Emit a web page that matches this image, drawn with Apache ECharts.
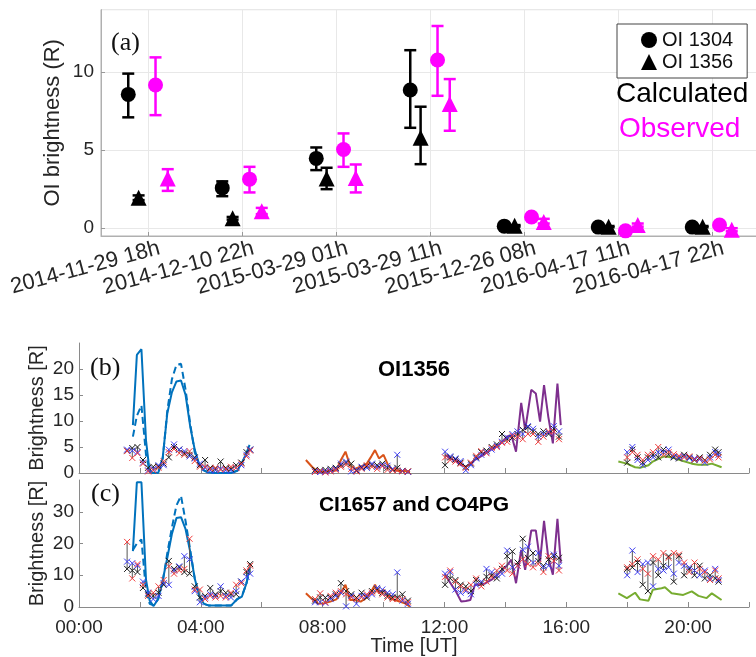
<!DOCTYPE html>
<html>
<head>
<meta charset="utf-8">
<script src="https://cdn.jsdelivr.net/npm/echarts@6/dist/echarts.min.js"></script>
<style>
  html, body { margin: 0; padding: 0; background: #fff; }
  #chart { width: 756px; height: 657px; }
</style>
</head>
<body>
<div id="chart"></div>
<script>
// ---------- (a) OI brightness per event ----------
const categories = ['2014-11-29 18h', '2014-12-10 22h', '2015-03-29 01h', '2015-03-29 11h',
  '2015-12-26 08h', '2016-04-17 11h', '2016-04-17 22h']
const calc1304 = [8.57, 2.58, 4.47, 8.85, 0.13, 0.07, 0.07]
const calc1304Lo = [7.1, 2.05, 3.72, 6.43, 0.08, 0.03, 0.03]
const calc1304Hi = [9.9, 3.0, 5.17, 11.4, 0.18, 0.11, 0.11]
const calc1356 = [1.95, 0.64, 3.18, 5.79, 0.15, 0.1, 0.1]
const calc1356Lo = [1.8, 0.55, 2.5, 4.1, 0.1, 0.06, 0.06]
const calc1356Hi = [2.1, 0.72, 3.87, 7.78, 0.2, 0.14, 0.14]
const obs1304 = [9.17, 3.14, 5.04, 10.77, 0.72, -0.17, 0.2]
const obs1304Lo = [7.24, 2.29, 3.93, 8.48, 0.6, -0.3, 0.1]
const obs1304Hi = [10.94, 3.93, 6.07, 12.95, 0.85, -0.05, 0.3]
const obs1356 = [3.18, 1.09, 3.22, 7.95, 0.4, 0.2, -0.1]
const obs1356Lo = [2.39, 0.9, 2.29, 6.24, 0.3, 0.1, -0.2]
const obs1356Hi = [3.78, 1.3, 4.08, 9.55, 0.6, 0.3, 0.0]

// ---------- (b)/(c) observations, time in hours UT ----------
const seg1T = [1.58, 1.75, 1.92, 2.1, 2.27, 2.44, 2.61, 2.78, 2.95, 3.12, 3.29, 3.46, 3.63, 3.8, 3.97,
  4.14, 4.31, 4.48, 4.65, 4.82, 4.99, 5.16, 5.33, 5.5, 5.62]
const seg2T = [7.75, 7.92, 8.09, 8.26, 8.43, 8.6, 8.77, 8.94, 9.11, 9.28, 9.45, 9.62, 9.79, 9.96, 10.13,
  10.3, 10.45, 10.62, 10.8]
const seg3T = [12.02, 12.19, 12.36, 12.53, 12.7, 12.87, 13.04, 13.21, 13.38, 13.55, 13.72, 13.89, 14.06,
  14.23, 14.4, 14.57, 14.74, 14.91, 15.08, 15.25, 15.42, 15.59, 15.76]
const seg4T = [18.0, 18.17, 18.34, 18.51, 18.68, 18.85, 19.02, 19.19, 19.36, 19.53, 19.7, 19.87, 20.04,
  20.21, 20.38, 20.55, 20.72, 20.89, 21.0]

// OI1356 observed (black / blue / red)
const b1K = [4.3, 4.8, 5.0, 2.5, 1.0, 1.2, 1.3, 1.8, 3.0, 5.0, 4.5, 3.8, 3.5, 3.0, 1.5, 2.5, 1.0, 0.8, 2.2, 1.0, 0.8, 1.5, 2.0, 4.0, 4.5]
const b1B = [4.5, 4.3, 4.0, 2.0, 0.5, 0.8, 1.5, 1.5, 4.5, 5.5, 4.5, 4.2, 3.2, 2.8, 1.8, 1.0, 0.5, 0.5, 0.8, 0.5, 0.5, 1.0, 1.5, 3.5, 4.5]
const b1R = [4.2, 2.9, 3.8, 1.8, 0.3, 0.5, 1.0, 2.2, 4.0, 4.6, 3.8, 3.5, 4.2, 2.3, 1.2, 1.2, 0.8, 1.0, 0.6, 0.8, 1.2, 1.0, 1.8, 3.2, 4.3]
const b2K = [0.6, 0.5, 0.6, 0.8, 1.0, 1.5, 2.0, 1.8, 0.5, 1.0, 1.3, 1.6, 1.5, 1.8, 1.0, 0.6, 1.0, 0.4, 0.3]
const b2B = [0.3, 0.2, 0.3, 0.5, 0.8, 1.8, 2.2, 0.3, 0.6, 1.2, 1.0, 1.8, 1.2, 1.5, 1.4, 0.8, 3.5, 0.4, 0.2]
const b2R = [0.2, 0.4, 0.1, 0.3, 0.6, 1.2, 1.6, 0.8, 0.3, 0.8, 1.5, 1.2, 0.8, 1.3, 0.6, 0.5, 0.5, 0.3, 0.3]
const b3K = [1.5, 3.0, 2.6, 2.0, 1.2, 1.8, 3.0, 4.0, 4.3, 5.0, 5.5, 7.5, 6.5, 6.8, 7.5, 8.3, 8.8, 8.0, 7.5, 8.0, 7.5, 8.5, 7.0]
const b3B = [4.1, 3.2, 2.8, 2.3, 0.5, 1.5, 2.8, 3.5, 4.0, 4.5, 5.2, 6.0, 6.8, 7.5, 8.0, 7.5, 9.0, 8.5, 7.0, 7.5, 7.8, 9.0, 8.0]
const b3R = [3.0, 2.5, 2.2, 1.8, 1.0, 2.0, 3.3, 4.2, 3.8, 4.8, 5.0, 5.8, 6.0, 7.2, 7.0, 6.5, 7.5, 7.5, 6.0, 7.0, 8.0, 8.0, 6.5]
const b4K = [2.0, 4.5, 3.0, 2.0, 3.0, 3.5, 3.0, 4.5, 3.5, 3.0, 2.8, 3.5, 3.0, 2.5, 3.0, 2.5, 3.5, 4.5, 4.0]
const b4B = [4.0, 5.0, 2.5, 1.5, 2.5, 3.0, 4.0, 4.0, 4.5, 3.2, 3.0, 3.2, 2.8, 2.8, 2.6, 2.0, 3.0, 4.0, 3.5]
const b4R = [3.0, 4.0, 3.5, 2.5, 3.5, 4.0, 5.0, 3.5, 4.0, 3.6, 3.3, 3.0, 3.2, 2.6, 2.8, 2.4, 2.6, 3.5, 3.0]

// CI1657 and CO4PG observed (black / blue / red)
const c1K = [12, 11.5, 11, 6, 4, 3.5, 4.5, 7, 14.5, 12, 12.5, 11, 10.5, 6.5, 3, 3.5, 6, 4, 5, 4.5, 4, 4, 8, 11, 13.5]
const c1B = [14.3, 13.8, 13, 8, 4.5, 2.5, 3.5, 7.5, 7, 11.5, 12.8, 16, 15, 5, 1.5, 3, 4, 3.5, 6.5, 3.5, 3, 5, 8, 9.5, 10.5]
const c1R = [20.5, 9, 13.5, 7, 3.5, 4.5, 6.5, 8.5, 12.8, 10.5, 11.5, 12, 21.5, 5.5, 5.5, 2.5, 3.5, 3, 3.5, 3, 4.5, 7, 7.5, 11.5, 13]
const c2K = [2, 3, 3, 3, 4, 7.5, 5, 4, 3, 4.5, 3, 5, 5.5, 4.5, 3.5, 3, 3, 4, 2]
const c2B = [1.5, 1.5, 1.3, 2.5, 3.5, 4.5, 0.2, 3.5, 1, 3.5, 3.5, 4, 6, 5.5, 4.5, 4, 10.9, 2, 1]
const c2R = [2.5, 4.3, 1.5, 3.5, 4.5, 5, 4, 3, 2.5, 3, 4, 4.5, 5, 4, 3, 2.5, 2.5, 2.5, 1.5]
const c3K = [7, 9, 8.5, 7, 6.5, 5, 8.5, 7.5, 9.5, 10, 9, 12, 16, 17.5, 14, 21.5, 15.5, 17, 14.5, 13, 15, 16, 15.5]
const c3B = [10.5, 11, 5.5, 4.5, 5, 4, 7, 8, 12, 11, 10, 10.5, 17.8, 12.5, 13, 18, 19, 14, 17, 12.5, 13, 16.5, 13]
const c3R = [9.5, 11.5, 8, 6.5, 5.5, 7, 9, 6.5, 8, 9.5, 11.5, 13, 11.5, 10.5, 13, 15, 13.5, 12.5, 13.5, 11, 16, 14.5, 11.5]
const c4K = [12, 12.5, 14, 7, 5, 14, 10, 13, 16, 8, 16, 10, 12, 10, 13, 9, 10, 9, 8]
const c4B = [10, 17.8, 11, 13.5, 14, 6.5, 12, 11.5, 12.5, 10.5, 14, 13, 12.5, 11.5, 10, 11.5, 9, 12, 8.5]
const c4R = [12.5, 13.5, 15, 12, 10.5, 16, 15, 17, 15.5, 17, 16.5, 14, 11, 14, 12, 11, 8.5, 11.5, 9]

// ---------- model curves ----------
const mod1T = [1.77, 1.9, 2.05, 2.2, 2.32, 2.45, 2.6, 2.75, 2.9, 3.05, 3.2, 3.35, 3.5, 3.65, 3.8, 3.95,
  4.1, 4.25, 4.5, 4.75, 5.0, 5.2, 5.35, 5.5, 5.6]
const b1Solid = [9.2, 22.7, 23.8, 6.3, 0.2, 0, 0, 3.0, 11.5, 15.5, 17.6, 17.8, 15.0, 9.0, 4.5, 1.6, 0.5, 0.1, 0, 0, 0, 0.5, 2.0, 3.8, 5.4]
const b1Dash = [7, 11, 13, 3.5, 0.3, 0, 0, 2.8, 12, 18, 20.8, 21.0, 16, 9.5, 4.0, 1.5, 0.5, 0.1, 0, 0, 0, 0.4, 1.8, 3.8, 5.2]
const c1Solid = [17.6, 39.3, 39.3, 8.6, 2, 0.3, 2.5, 8.5, 15.5, 23, 28, 28.3, 24.5, 17.5, 9, 3.5, 1, 0.5, 0.5, 0.5, 0.5, 2.5, 3.3, 7.5, 12.5]
const c1Dash = [18, 20, 21.3, 5, 1, 0.5, 2.5, 8, 17, 25, 32, 35, 27, 18, 9, 3.5, 1, 0.5, 0.5, 0.5, 0.5, 2.5, 3.5, 7.5, 11.5]
const mod2T = [7.45, 7.65, 7.85, 8.05, 8.25, 8.45, 8.6, 8.75, 8.9, 9.05, 9.25, 9.45, 9.6, 9.72, 9.85, 10.0,
  10.15, 10.3, 10.5, 10.7, 10.87]
const b2Mod = [2.5, 1.2, 0.2, 0.2, 0.4, 0.5, 2.5, 4.1, 1.5, 0.8, 1.2, 1.8, 3.2, 4.4, 2.8, 3.5, 1.5, 0.6, 0.4, 0.4, 0.2]
const c2Mod = [4.3, 2.5, 1.0, 1.2, 1.7, 2.4, 4.5, 7.0, 2.2, 2.2, 1.7, 3.0, 5.0, 7.0, 4.3, 5.4, 3.5, 2.4, 1.8, 1.2, 0.1]
const mod3T = [12.02, 12.2, 12.4, 12.55, 12.7, 12.85, 13.0, 13.17, 13.35, 13.55, 13.72, 13.9, 14.05, 14.2,
  14.35, 14.52, 14.65, 14.85, 15.0, 15.14, 15.27, 15.41, 15.56, 15.71, 15.82]
const b3Mod = [3.5, 2.8, 2.2, 1.5, 1.2, 1.8, 2.5, 3.1, 3.8, 4.6, 5.1, 6, 7, 7.2, 4.1, 13.5, 8.3, 16, 15.3, 9.9, 16.9, 10.8, 5.7, 17.2, 9.2]
const c3Mod = [10.2, 7.5, 4.5, 1.7, 1.9, 2.2, 7, 7, 7.5, 8.6, 10, 11.7, 13, 14.9, 7.5, 18, 11.7, 24.1, 24.1, 14.4, 27.1, 15.4, 10.2, 27.8, 13.9]
const mod4T = [17.71, 17.99, 18.26, 18.42, 18.7, 18.84, 19.13, 19.24, 19.46, 19.84, 20.12, 20.34, 20.61, 20.78, 21.1]
const b4Mod = [2.2, 1.8, 1.1, 1.0, 1.5, 2.2, 3.0, 3.2, 3.0, 2.3, 1.8, 1.6, 1.6, 1.8, 1.1]
const c4Mod = [4.3, 2.8, 4.5, 2.4, 2.0, 5.4, 5.9, 6.2, 4.3, 3.8, 4.9, 3.5, 2.8, 4.3, 2.2]

const SANS = 'Liberation Sans, Arial, sans-serif'
const SERIF = 'Liberation Serif, Times New Roman, serif'
const AXIS_GRAY = '#8a8a8a'
const TXT = '#262626'
const MAGENTA = '#ff00ff'

const chart = echarts.init(document.getElementById('chart'), null, { renderer: 'canvas' })

// marker offset of each series inside a category slot
const OFF = { c1304: -0.21, c1356: -0.1, o1304: 0.08, o1356: 0.21 }

function scatterA(name, vals, off, symbol, color) {
  return {
    name: name, type: 'scatter', xAxisIndex: 0, yAxisIndex: 0,
    symbol: symbol, symbolSize: symbol === 'circle' ? 15 : 16,
    itemStyle: { color: color, opacity: 1 },
    data: vals.map((v, i) => [i + off, v]), z: 4, animation: false
  }
}

function errA(lo, hi, off, color) {
  return {
    type: 'custom', xAxisIndex: 0, yAxisIndex: 0, z: 3, animation: false, silent: true,
    data: lo.map((l, i) => [i + off, l, hi[i]]),
    renderItem(params, api) {
      const p1 = api.coord([api.value(0), api.value(1)])
      const p2 = api.coord([api.value(0), api.value(2)])
      const w = 6
      const st = { stroke: color, lineWidth: 2.5 }
      return {
        type: 'group', children: [
          { type: 'line', shape: { x1: p1[0], y1: p1[1], x2: p2[0], y2: p2[1] }, style: st },
          { type: 'line', shape: { x1: p1[0] - w, y1: p1[1], x2: p1[0] + w, y2: p1[1] }, style: st },
          { type: 'line', shape: { x1: p2[0] - w, y1: p2[1], x2: p2[0] + w, y2: p2[1] }, style: st }
        ]
      }
    }
  }
}

function zipObs(pairs) {
  const out = []
  pairs.forEach(([t, k, b, r]) => t.forEach((x, i) => out.push([x, k[i], b[i], r[i]])))
  return out
}

function obsSeries(idx, data) {
  const cols = ['#1a1a1a', '#3b3bf2', '#f03c3c']
  return {
    type: 'custom', xAxisIndex: idx, yAxisIndex: idx, z: 5, animation: false, silent: true,
    data: data,
    renderItem(params, api) {
      const t = api.value(0)
      const pts = [1, 2, 3].map(d => api.coord([t, api.value(d)]))
      const ys = pts.map(p => p[1])
      const x = pts[0][0]
      const r = 3
      const children = [{
        type: 'line', shape: { x1: x, y1: Math.min(...ys), x2: x, y2: Math.max(...ys) },
        style: { stroke: '#555', lineWidth: 1 }
      }]
      pts.forEach((p, i) => {
        const st = { stroke: cols[i], lineWidth: 1 }
        children.push({ type: 'line', shape: { x1: p[0] - r, y1: p[1] - r, x2: p[0] + r, y2: p[1] + r }, style: st })
        children.push({ type: 'line', shape: { x1: p[0] - r, y1: p[1] + r, x2: p[0] + r, y2: p[1] - r }, style: st })
      })
      return { type: 'group', children: children }
    }
  }
}

function modLine(idx, times, vals, color, dashed) {
  return {
    type: 'line', xAxisIndex: idx, yAxisIndex: idx, showSymbol: false, symbol: 'none',
    data: times.map((t, i) => [t, vals[i]]),
    lineStyle: { color: color, width: 2, type: dashed ? [7, 4] : 'solid' },
    itemStyle: { color: color }, z: 2, animation: false, silent: true
  }
}

function timeLabel(v) {
  if (v % 4 !== 0 || v >= 22) return ''
  return (v < 10 ? '0' : '') + v + ':00'
}

const BLUE = '#0072BD', ORANGE = '#D95319', PURPLE = '#7E2F8E', GREEN = '#77AC30'

const timeAxis = (idx, withLabels) => ({
  type: 'value', gridIndex: idx, min: 0, max: 22, interval: 2,
  axisLine: { show: true, onZero: false, lineStyle: { color: AXIS_GRAY, width: 1 } },
  axisTick: { show: true, inside: true, length: 5, lineStyle: { color: AXIS_GRAY } },
  splitLine: { show: false },
  axisLabel: {
    show: withLabels, formatter: timeLabel, margin: 11,
    fontFamily: SANS, fontSize: 19, color: TXT
  },
  name: withLabels ? 'Time [UT]' : '', nameLocation: 'middle', nameGap: 29, nameMoveOverlap: false,
  nameTextStyle: { fontFamily: SANS, fontSize: 20, color: TXT }
})

const brightAxis = (idx, max, interval) => ({
  type: 'value', gridIndex: idx, min: 0, max: max, interval: interval,
  axisLine: { show: true, onZero: false, lineStyle: { color: AXIS_GRAY, width: 1 } },
  axisTick: { show: true, inside: true, length: 4, lineStyle: { color: AXIS_GRAY } },
  splitLine: { show: false },
  axisLabel: { showMaxLabel: false, margin: 5, fontFamily: SANS, fontSize: 19, color: TXT },
  name: 'Brightness [R]', nameLocation: 'middle', nameGap: 32, nameMoveOverlap: false,
  nameTextStyle: { fontFamily: SANS, fontSize: 20, color: TXT }
})

const option = {
  backgroundColor: '#fff',
  animation: false,
  title: [
    { text: '(a)', left: 111, top: 30, padding: 0, textStyle: { fontFamily: SERIF, fontSize: 26, fontWeight: 'normal', color: '#111' } },
    { text: 'Calculated', left: 616, top: 80, padding: 0, textStyle: { fontFamily: SANS, fontSize: 28, fontWeight: 'normal', color: '#000' } },
    { text: 'Observed', left: 619, top: 115, padding: 0, textStyle: { fontFamily: SANS, fontSize: 28, fontWeight: 'normal', color: MAGENTA } },
    { text: '(b)', left: 90, top: 355, padding: 0, textStyle: { fontFamily: SERIF, fontSize: 26, fontWeight: 'normal', color: '#111' } },
    { text: 'OI1356', left: 414, textAlign: 'center', top: 359, padding: 0, textStyle: { fontFamily: SANS, fontSize: 22, fontWeight: 'bold', color: '#000' } },
    { text: '(c)', left: 91, top: 481, padding: 0, textStyle: { fontFamily: SERIF, fontSize: 26, fontWeight: 'normal', color: '#111' } },
    { text: 'CI1657 and CO4PG', left: 414, textAlign: 'center', top: 495, padding: 0, textStyle: { fontFamily: SANS, fontSize: 21, fontWeight: 'bold', color: '#000' } }
  ],
  legend: {
    orient: 'vertical', left: 617, top: 24,
    padding: [6, 14, 6, 24], itemGap: 2, itemWidth: 16, itemHeight: 16,
    borderColor: '#444', borderWidth: 1, backgroundColor: '#fff',
    textStyle: { fontFamily: SANS, fontSize: 20, color: '#111' },
    data: [{ name: 'OI 1304', icon: 'circle' }, { name: 'OI 1356', icon: 'triangle' }]
  },
  grid: [
    { left: 101, top: 9.6, width: 658, height: 226.4, show: true, borderColor: '#b0b0b0', borderWidth: 1, backgroundColor: 'transparent', outerBoundsMode: 'none', containLabel: false },
    { left: 79, top: 343, width: 670, height: 130, outerBoundsMode: 'none', containLabel: false },
    { left: 79, top: 480, width: 670, height: 127, outerBoundsMode: 'none', containLabel: false }
  ],
  xAxis: [
    {
      type: 'value', gridIndex: 0, min: -0.5, max: 6.5, splitNumber: 7,
      axisLine: { show: true, onZero: false, lineStyle: { color: '#b0b0b0' } },
      axisTick: { show: true, inside: true, length: 4, lineStyle: { color: '#999' } },
      splitLine: { show: true, lineStyle: { color: '#e8e8e8', width: 1 } },
      axisLabel: {
        rotate: 15, margin: 15, padding: [0, -12, 0, 0], showMinLabel: false, showMaxLabel: false,
        fontFamily: SANS, fontSize: 22, color: TXT,
        formatter: v => (Number.isInteger(v) && categories[v]) ? categories[v] : ''
      }
    },
    timeAxis(1, false),
    timeAxis(2, true)
  ],
  yAxis: [
    {
      type: 'value', gridIndex: 0, min: -0.5, max: 14, splitNumber: 3,
      axisLine: { show: true, onZero: false, lineStyle: { color: '#b0b0b0' } },
      axisTick: { show: true, inside: true, length: 4, lineStyle: { color: '#999' } },
      splitLine: { show: true, lineStyle: { color: '#e8e8e8', width: 1 } },
      axisLabel: { showMinLabel: false, showMaxLabel: false, margin: 7, fontFamily: SANS, fontSize: 19, color: TXT },
      name: 'OI brightness (R)', nameLocation: 'middle', nameGap: 37, nameMoveOverlap: false,
      nameTextStyle: { fontFamily: SANS, fontSize: 22, color: TXT }
    },
    brightAxis(1, 25, 5),
    brightAxis(2, 40, 10)
  ],
  series: [
    errA(calc1304Lo, calc1304Hi, OFF.c1304, '#000'),
    errA(calc1356Lo, calc1356Hi, OFF.c1356, '#000'),
    errA(obs1304Lo, obs1304Hi, OFF.o1304, MAGENTA),
    errA(obs1356Lo, obs1356Hi, OFF.o1356, MAGENTA),
    scatterA('OI 1304', calc1304, OFF.c1304, 'circle', '#000'),
    scatterA('OI 1356', calc1356, OFF.c1356, 'triangle', '#000'),
    scatterA('OI 1304 observed', obs1304, OFF.o1304, 'circle', MAGENTA),
    scatterA('OI 1356 observed', obs1356, OFF.o1356, 'triangle', MAGENTA),

    modLine(1, mod1T, b1Solid, BLUE, false),
    modLine(1, mod1T, b1Dash, BLUE, true),
    modLine(1, mod2T, b2Mod, ORANGE, false),
    modLine(1, mod3T, b3Mod, PURPLE, false),
    modLine(1, mod4T, b4Mod, GREEN, false),
    obsSeries(1, zipObs([[seg1T, b1K, b1B, b1R], [seg2T, b2K, b2B, b2R], [seg3T, b3K, b3B, b3R], [seg4T, b4K, b4B, b4R]])),

    modLine(2, mod1T, c1Solid, BLUE, false),
    modLine(2, mod1T, c1Dash, BLUE, true),
    modLine(2, mod2T, c2Mod, ORANGE, false),
    modLine(2, mod3T, c3Mod, PURPLE, false),
    modLine(2, mod4T, c4Mod, GREEN, false),
    obsSeries(2, zipObs([[seg1T, c1K, c1B, c1R], [seg2T, c2K, c2B, c2R], [seg3T, c3K, c3B, c3R], [seg4T, c4K, c4B, c4R]]))
  ]
}

chart.setOption(option)
</script>
</body>
</html>
